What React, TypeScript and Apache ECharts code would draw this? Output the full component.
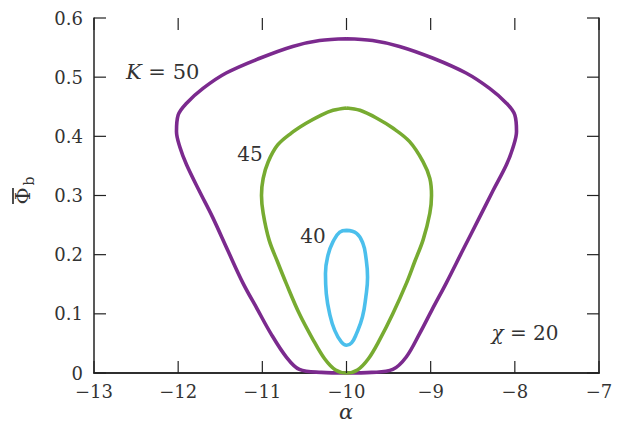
import React, { useEffect, useRef } from "react";
import * as echarts from "echarts";

const X_MIN = -13;
const X_MAX = -7;
const Y_MIN = 0;
const Y_MAX = 0.6;
const xTickValues = [-13, -12, -11, -10, -9, -8, -7];
const yTickValues = [0, 0.1, 0.2, 0.3, 0.4, 0.5, 0.6];

const curveK50: [number, number][] = [
  [-10.0, 0.565], [-9.69, 0.562], [-9.37, 0.552], [-8.97, 0.532], [-8.58, 0.507],
  [-8.3, 0.481], [-8.1, 0.456], [-8.0, 0.436], [-7.98, 0.408], [-8.02, 0.382],
  [-8.1, 0.352], [-8.26, 0.308], [-8.42, 0.263], [-8.62, 0.207], [-8.815, 0.152],
  [-8.98, 0.108], [-9.13, 0.067], [-9.29, 0.027], [-9.45, 0.006], [-9.7, 0.001],
  [-10.0, 0.0], [-10.3, 0.001], [-10.56, 0.006], [-10.715, 0.027], [-10.9, 0.067],
  [-11.06, 0.108], [-11.23, 0.152], [-11.41, 0.207], [-11.59, 0.263], [-11.75, 0.308],
  [-11.9, 0.352], [-11.98, 0.382], [-12.02, 0.408], [-12.0, 0.436], [-11.9, 0.456],
  [-11.705, 0.481], [-11.43, 0.507], [-11.03, 0.532], [-10.64, 0.552], [-10.32, 0.562],
  [-10.0, 0.565],
];

const curveK45: [number, number][] = [
  [-10.0, 0.448], [-9.84, 0.444], [-9.645, 0.431], [-9.45, 0.414], [-9.25, 0.391],
  [-9.09, 0.357], [-9.01, 0.329], [-8.99, 0.3], [-9.01, 0.27], [-9.09, 0.225],
  [-9.19, 0.188], [-9.29, 0.151], [-9.45, 0.1], [-9.61, 0.055], [-9.74, 0.024],
  [-9.87, 0.005], [-10.0, 0.0], [-10.13, 0.005], [-10.26, 0.024], [-10.4, 0.057],
  [-10.56, 0.1], [-10.715, 0.151], [-10.82, 0.188], [-10.92, 0.225], [-10.99, 0.27],
  [-11.01, 0.3], [-10.99, 0.329], [-10.93, 0.357], [-10.82, 0.385], [-10.66, 0.405],
  [-10.48, 0.422], [-10.3, 0.436], [-10.16, 0.444], [-10.0, 0.448],
];

const curveK40: [number, number][] = [
  [-10.0, 0.241], [-9.88, 0.236], [-9.805, 0.219], [-9.77, 0.196], [-9.75, 0.162],
  [-9.77, 0.129], [-9.81, 0.095], [-9.88, 0.067], [-9.94, 0.051], [-10.0, 0.047],
  [-10.06, 0.052], [-10.14, 0.072], [-10.2, 0.1], [-10.24, 0.134], [-10.25, 0.168],
  [-10.22, 0.199], [-10.16, 0.222], [-10.08, 0.238], [-10.0, 0.241],
];

const curveColors = ["#7b2a8e", "#77ab31", "#4bbfec"];
const curveNames = ["K = 50", "45", "40"];
const curveSmooth = [0.35, 0.35, 0.45];

const FONT = "'DejaVu Serif', serif";
const TEXT = "#333";
const AXIS = "#222";
const TICK_LEN = 12;

const W = 625;
const H = 424;

export default function App() {
  const ref = useRef<HTMLDivElement>(null);
  useEffect(() => {
    if (!ref.current) return;
    const chart = echarts.init(ref.current, undefined, { renderer: "svg" });
    const line = () => ({ show: true, lineStyle: { color: AXIS, width: 1.5 } });
    const noTick = { show: false };
    const noLabel = { show: false };
    const noSplit = { show: false };
    const xRange = { min: X_MIN, max: X_MAX, interval: 1 };
    const yRange = { min: Y_MIN, max: Y_MAX, interval: 0.1 };
    const minus = (v: number) => String(v).replace("-", "\u2212");
    const curves = [curveK50, curveK45, curveK40].map((d, i) => ({
      type: "line",
      name: curveNames[i],
      data: d,
      showSymbol: false,
      smooth: curveSmooth[i],
      clip: false,
      lineStyle: { color: curveColors[i], width: 3.6 },
      itemStyle: { color: curveColors[i] },
      z: 3,
    }));
    const tickData = [
      ...xTickValues.map((v) => [v, Y_MIN, 0]),
      ...yTickValues.map((v) => [X_MIN, v, 1]),
    ];
    const tickSeries = {
      type: "custom",
      silent: true,
      clip: false,
      z: 4,
      data: tickData,
      encode: { x: 0, y: 1 },
      renderItem: (_p: any, api: any) => {
        const v = api.value(api.value(2) === 0 ? 0 : 1);
        const style = { stroke: AXIS, lineWidth: 1.2 };
        if (api.value(2) === 0) {
          const a = api.coord([v, Y_MIN]);
          const b = api.coord([v, Y_MAX]);
          return {
            type: "group",
            children: [
              { type: "line", shape: { x1: a[0], y1: a[1], x2: a[0], y2: a[1] - TICK_LEN }, style },
              { type: "line", shape: { x1: b[0], y1: b[1], x2: b[0], y2: b[1] + TICK_LEN }, style },
            ],
          };
        }
        const a = api.coord([X_MIN, v]);
        const b = api.coord([X_MAX, v]);
        return {
          type: "group",
          children: [
            { type: "line", shape: { x1: a[0], y1: a[1], x2: a[0] + TICK_LEN, y2: a[1] }, style },
            { type: "line", shape: { x1: b[0], y1: b[1], x2: b[0] - TICK_LEN, y2: b[1] }, style },
          ],
        };
      },
    };
    chart.setOption({
      animation: false,
      backgroundColor: "#fff",
      grid: { left: 94, right: 26, top: 18, bottom: 51 },
      xAxis: [
        {
          type: "value", position: "bottom", ...xRange,
          axisLine: line(), axisTick: noTick, splitLine: noSplit,
          axisLabel: { formatter: minus, fontFamily: FONT, fontSize: 18, color: TEXT, margin: 9 },
        },
        { type: "value", position: "top", ...xRange, axisLine: line(), axisTick: noTick, splitLine: noSplit, axisLabel: noLabel },
      ],
      yAxis: [
        {
          type: "value", position: "left", ...yRange,
          axisLine: line(), axisTick: noTick, splitLine: noSplit,
          axisLabel: { fontFamily: FONT, fontSize: 18, color: TEXT, margin: 11 },
        },
        { type: "value", position: "right", ...yRange, axisLine: line(), axisTick: noTick, splitLine: noSplit, axisLabel: noLabel },
      ],
      series: [...curves, tickSeries],
      graphic: [
        {
          type: "text", x: 126, y: 72,
          style: {
            text: "{i|K} = 50", fontFamily: FONT, fontSize: 21, fill: TEXT, verticalAlign: "middle",
            rich: { i: { fontStyle: "italic", fontFamily: FONT, fontSize: 21, fill: TEXT } },
          },
        },
        { type: "text", x: 250, y: 154, style: { text: "45", fontFamily: FONT, fontSize: 20, fill: TEXT, align: "center", verticalAlign: "middle" } },
        { type: "text", x: 313, y: 236, style: { text: "40", fontFamily: FONT, fontSize: 20, fill: TEXT, align: "center", verticalAlign: "middle" } },
        {
          type: "text", x: 525, y: 333,
          style: {
            text: "{i|\u03c7} = 20", fontFamily: FONT, fontSize: 20, fill: TEXT, align: "center", verticalAlign: "middle",
            rich: { i: { fontStyle: "italic", fontFamily: FONT, fontSize: 20, fill: TEXT } },
          },
        },
        { type: "text", x: 346, y: 412, style: { text: "\u03b1", fontFamily: FONT, fontStyle: "italic", fontSize: 21, fill: TEXT, align: "center", verticalAlign: "middle" } },
        {
          type: "group", x: 23, y: 193, rotation: Math.PI / 2,
          children: [
            { type: "text", x: -3, y: 0, style: { text: "\u03a6", fontFamily: FONT, fontSize: 21, fill: TEXT, align: "center", verticalAlign: "middle" } },
            { type: "line", shape: { x1: -11, y1: -10, x2: 5, y2: -10 }, style: { stroke: AXIS, lineWidth: 1.6 } },
            { type: "text", x: 12, y: 6, style: { text: "b", fontFamily: FONT, fontSize: 14, fill: TEXT, align: "center", verticalAlign: "middle" } },
          ],
        },
      ],
    });
    return () => chart.dispose();
  }, []);
  return <div ref={ref} style={{ position: "fixed", left: 0, top: 0, width: W, height: H }} />;
}
